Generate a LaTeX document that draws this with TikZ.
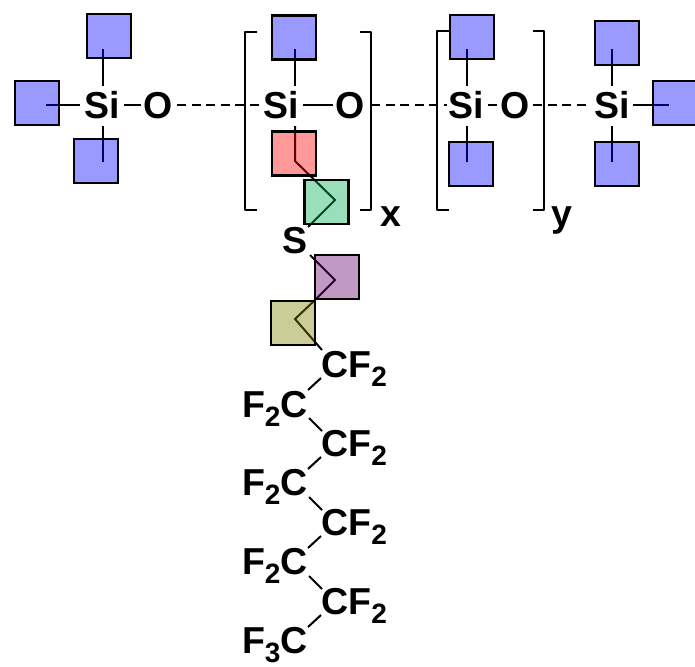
\documentclass[tikz,border=0pt]{standalone}
\usepackage{fontspec}
\setmainfont{Liberation Sans}
\newcommand{\subn}[1]{{\fontsize{28}{28}\selectfont\raisebox{-9.5pt}{#1}}}
\tikzset{
  atom/.style={font=\fontsize{37.5}{37.5}\selectfont\bfseries, inner sep=0pt, outer sep=0pt, anchor=base west},
  bond/.style={line width=2pt, black},
  dashbond/.style={line width=2pt, black, dash pattern=on 9pt off 5.5pt},
  bracket/.style={line width=2pt, black, line join=round},
  sq/.style={draw=black, line width=2.6pt, minimum size=44pt, inner sep=0pt, outer sep=0pt, fill opacity=.4, draw opacity=1},
  sqb/.style={sq, fill=blue},
  sqr/.style={sq, fill=red},
  sqg/.style={sq, fill={rgb,255:red,0;green,176;blue,80}},
  sqp/.style={sq, fill={rgb,255:red,102;green,0;blue,102}},
  sqo/.style={sq, fill={rgb,255:red,128;green,128;blue,0}},
}
\begin{document}
\begin{tikzpicture}[x=1pt,y=-1pt]
\useasboundingbox (0,0) rectangle (695,666);
% atoms
\node[atom] (si1) at (84.5,118) {Si};
\node[atom] (o1) at (143.5,118) {O};
\node[atom] (si2) at (263.5,118) {Si};
\node[atom] (o2) at (335.5,118) {O};
\node[atom] (si3) at (448.5,118) {Si};
\node[atom] (o3) at (500,118) {O};
\node[atom] (si4) at (594.5,118) {Si};
\node[atom] (xl) at (380,226) {x};
\node[atom] (yl) at (551,226) {y};
\node[atom] (s) at (282.5,253) {S};
\node[atom] (c1) at (321.5,377) {CF\subn{2}};
\node[atom] (c2) at (242,417) {F\subn{2}C};
\node[atom] (c3) at (321.5,456) {CF\subn{2}};
\node[atom] (c4) at (242,495) {F\subn{2}C};
\node[atom] (c5) at (321.5,535) {CF\subn{2}};
\node[atom] (c6) at (242,574) {F\subn{2}C};
\node[atom] (c7) at (321.5,614) {CF\subn{2}};
\node[atom] (c8) at (242,653) {F\subn{3}C};
% bond ends
\foreach \n/\x/\y in {
  a/103/49, b/103/86, c/46/105, d/80/105, e/103/126, f/103/162,
  g/124/105, h/141/105, i/177/105, j/260/105,
  k/295/49, l/295/86, m/303/105, n/333/105,
  o/371/105, p/447/105, q/467/49, r/467/86, t/467/126, u/467/162,
  v/488/105, w/497/105, aa/533/105, ab/590/105,
  ac/612/49, ad/612/86, ae/612/126, af/612/162, ag/633/105, ah/669/105,
  ba/295/126, bb/295/161, bc/335/200, bd/308/227,
  be/310/255, bf/335/280, bg/315/300, bh/295/319, bi/322/350}
  {\coordinate (\n) at (\x,\y);}
\foreach \n/\y in {0/0,1/79,2/158,3/237}{
  \coordinate (u\n) at (321,378+\y);
  \coordinate (v\n) at (308,390+\y);
}
\foreach \n/\y in {0/0,1/79,2/158}{
  \coordinate (w\n) at (309,418+\y);
  \coordinate (z\n) at (322,431+\y);
}
% bonds
\draw[bond] (a) -- (b);
\draw[bond] (c) -- (d);
\draw[bond] (e) -- (f);
\draw[bond] (g) -- (h);
\draw[dashbond] (i) -- (j);
\draw[bond] (k) -- (l);
\draw[bond] (m) -- (n);
\draw[dashbond] (o) -- (p);
\draw[bond] (q) -- (r);
\draw[bond] (t) -- (u);
\draw[bond] (v) -- (w);
\draw[dashbond] (aa) -- (ab);
\draw[bond] (ac) -- (ad);
\draw[bond] (ae) -- (af);
\draw[bond] (ag) -- (ah);
\draw[bond] (ba) -- (bb) -- (bc) -- (bd);
\draw[bond] (be) -- (bf) -- (bg) -- (bh) -- (bi);
\foreach \n in {0,1,2,3}{\draw[bond] (u\n) -- (v\n);}
\foreach \n in {0,1,2}{\draw[bond] (w\n) -- (z\n);}
% brackets
\coordinate (b1a) at (257,32); \coordinate (b1b) at (245,32); \coordinate (b1c) at (245,210); \coordinate (b1d) at (257,210);
\coordinate (b2a) at (360,32); \coordinate (b2b) at (371,32); \coordinate (b2c) at (371,210); \coordinate (b2d) at (360,210);
\coordinate (b3a) at (449,31); \coordinate (b3b) at (437,31); \coordinate (b3c) at (437,210); \coordinate (b3d) at (449,210);
\coordinate (b4a) at (533,31); \coordinate (b4b) at (544,31); \coordinate (b4c) at (544,210); \coordinate (b4d) at (533,210);
\draw[bracket] (b1a) -- (b1b) -- (b1c) -- (b1d);
\draw[bracket] (b2a) -- (b2b) -- (b2c) -- (b2d);
\draw[bracket] (b3a) -- (b3b) -- (b3c) -- (b3d);
\draw[bracket] (b4a) -- (b4b) -- (b4c) -- (b4d);
% squares
\node[sqb] (s1) at (109,36) {};
\node[sqb] (s2) at (37,103) {};
\node[sqb] (s3) at (96,161) {};
\node[sqb] (s4) at (294,37.5) {};
\node[sqr] (s5) at (294,153.5) {};
\node[sqg] (s6) at (326.5,202) {};
\node[sqp] (s7) at (337,277) {};
\node[sqo] (s8) at (293,323) {};
\node[sqb] (s9) at (472,37) {};
\node[sqb] (s10) at (471,164) {};
\node[sqb] (s11) at (617,43) {};
\node[sqb] (s12) at (675,103) {};
\node[sqb] (s13) at (617,164) {};
\end{tikzpicture}
\end{document}
